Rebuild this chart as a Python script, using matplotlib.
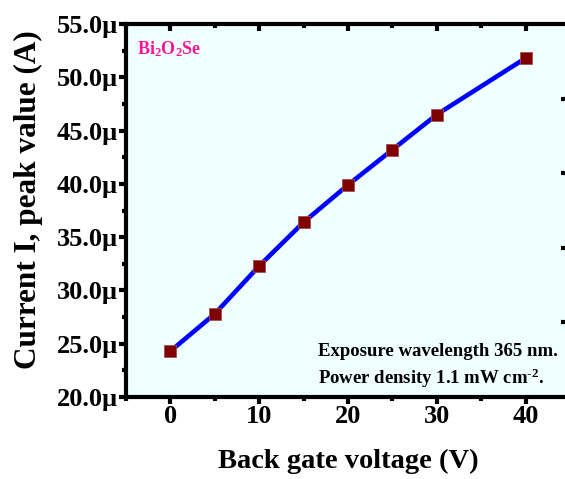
import matplotlib
matplotlib.use('Agg')
import matplotlib.pyplot as plt
from matplotlib.ticker import MultipleLocator, FuncFormatter

# data
voltage = [0, 5, 10, 15, 20, 25, 30, 40]
current_uA = [24.3, 27.8, 32.3, 36.4, 39.9, 43.2, 46.5, 51.8]

x_ticks = [0, 10, 20, 30, 40]
y_ticks = [20, 25, 30, 35, 40, 45, 50, 55]

plt.rcParams['font.family'] = ['Liberation Serif', 'DejaVu Serif']
plt.rcParams['font.weight'] = 'bold'
plt.rcParams['mathtext.fontset'] = 'custom'
plt.rcParams['mathtext.rm'] = 'Liberation Serif:bold'
plt.rcParams['mathtext.it'] = 'Liberation Serif:bold'
plt.rcParams['mathtext.bf'] = 'Liberation Serif:bold'

fig = plt.figure(figsize=(5.65, 4.79), dpi=100)
W, H = 565, 479
ax = fig.add_axes([126 / W, 1 - 397 / H, (570 - 126) / W, (397 - 24) / H])
ax.set_facecolor('#F0FFFF')

ax.plot(voltage, current_uA, color='#0000FF', lw=3.3, zorder=2)
ax.plot(voltage, current_uA, ls='none', marker='s', ms=9,
        mfc='#800000', mec='#A05050', mew=0.6, zorder=3)

ax.set_xlim(-5, 45)
ax.set_ylim(20, 55)
ax.set_xticks(x_ticks)
ax.set_yticks(y_ticks)
ax.xaxis.set_minor_locator(MultipleLocator(5))
ax.yaxis.set_minor_locator(MultipleLocator(2.5))
ax.yaxis.set_major_formatter(FuncFormatter(lambda v, p: f"{v:.1f}\u00b5"))

for s in ax.spines.values():
    s.set_linewidth(3)

ax.tick_params(which='major', direction='out', length=5, width=3,
               labelsize=19, pad=1)
ax.tick_params(which='minor', direction='out', length=3, width=3)
ax.tick_params(axis='x', which='both', top=True)
# top ticks point inward
for t in ax.xaxis.get_major_ticks() + ax.xaxis.get_minor_ticks():
    t.tick2line.set_marker(3)

for lab in ax.get_xticklabels() + ax.get_yticklabels():
    lab.set_fontweight('bold')

# right side: inward ticks on a separate scale, only the tips show in frame
axr = ax.twinx()
axr.set_ylim(0, 1)
axr.set_yticks([0.2, 0.4, 0.6, 0.8])
axr.tick_params(axis='y', direction='in', length=6.5, width=3, labelright=False)
for s in axr.spines.values():
    s.set_visible(False)

ax.set_xlabel('Back gate voltage (V)', fontsize=20.5, fontweight='bold')
ax.xaxis.set_label_coords(0.5, -0.140)
ax.set_ylabel('Current I, peak value (A)', fontsize=22.5, fontweight='bold',
              va='center')
ax.yaxis.set_label_coords(-0.219, 0.528)

ax.text(0.025, 0.96, 'Bi$_\\mathbf{2}$O$_\\mathbf{2}$Se', transform=ax.transAxes,
        color='#FF1493', fontsize=13, fontweight='bold', va='top', ha='left')

ax.text(0.432, 0.121, 'Exposure wavelength 365 nm.', transform=ax.transAxes,
        fontsize=13.5, fontweight='bold', ha='left', va='center')
ax.text(0.432, 0.051, 'Power density 1.1 mW cm$^{\\mathbf{\\text{-}2}}$.', transform=ax.transAxes,
        fontsize=13.5, fontweight='bold', ha='left', va='center')

fig.savefig('out.png', dpi=100)
